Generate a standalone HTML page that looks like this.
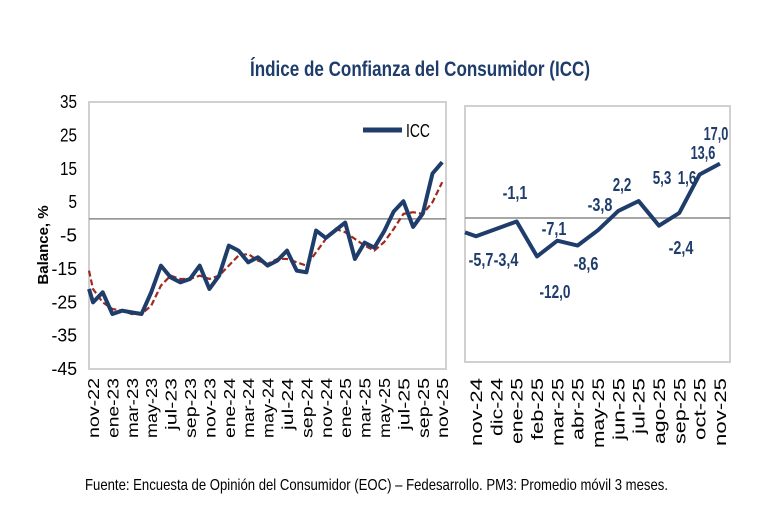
<!DOCTYPE html>
<html><head><meta charset="utf-8"><style>
body{margin:0;background:#fff;}
svg{display:block;}
.n{font-family:"Liberation Sans",sans-serif;}
.s{font-family:"Liberation Sans",sans-serif;}
</style></head><body>
<svg id="c" width="768" height="512" viewBox="0 0 768 512" xmlns="http://www.w3.org/2000/svg">
<text x="250" y="76" textLength="340" lengthAdjust="spacingAndGlyphs" class="n" font-size="21" font-weight="bold" fill="#1f3d6b">Índice de Confianza del Consumidor (ICC)</text>
<rect x="89" y="102" width="357" height="267" fill="#fff" stroke="#d0d0d0" stroke-width="2"/>
<rect x="465" y="106" width="265" height="256" fill="#fff" stroke="#d0d0d0" stroke-width="2"/>
<line x1="89" y1="218.9" x2="446" y2="218.9" stroke="#8a8a8a" stroke-width="1.5"/>
<line x1="465" y1="218" x2="730" y2="218" stroke="#8a8a8a" stroke-width="1.5"/>
<text transform="translate(48,245) rotate(-90)" text-anchor="middle" class="s" font-size="15" font-weight="bold" fill="#000">Balance, %</text>
<line x1="363" y1="130" x2="402" y2="130" stroke="#1f3d6b" stroke-width="5"/>
<text x="406" y="137" textLength="24" lengthAdjust="spacingAndGlyphs" class="n" font-size="18" fill="#000">ICC</text>
<text x="85" y="490" textLength="583" lengthAdjust="spacingAndGlyphs" class="n" font-size="16" fill="#000">Fuente: Encuesta de Opinión del Consumidor (EOC) – Fedesarrollo. PM3: Promedio móvil 3 meses.</text>
<g id="g"></g>
</svg>
<script>
var g=document.getElementById('g'),h='';
function Y(v){return 218.9-v*3.3375;}
for(var v=35;v>=-45;v-=10){var s=''+v;h+='<text x="'+(77-s.length*8.5)+'" y="'+(Y(v)+6)+'" textLength="'+(s.length*8.5)+'" lengthAdjust="spacingAndGlyphs" class="n" font-size="18" fill="#000">'+s+'</text>';}
var icc=[-25,-22,-28.5,-27.5,-28,-28.5,-22,-14,-17.5,-19,-18,-14,-21,-17,-8,-9.5,-13,-11.5,-14,-12.5,-9.5,-15.5,-16,-3.5,-5.7,-3.4,-1.1,-12,-7.1,-8.6,-3.8,2.2,5.3,-2.4,1.6,13.6,17];
var ma=[-21,-25,-27,-27.5,-28.5,-28.5,-26,-20,-17,-18,-18,-17,-18,-17,-14,-11,-10.5,-12.5,-13.5,-12,-12,-13,-14,-10,-6,-3,-4,-6,-8,-9.5,-7,-3,1.5,2,1.5,5,11];
function X(i){return 93+9.7*i;}
var p='89,'+Y(-21),q='89,'+Y(-15.5);
for(var i=0;i<37;i++){p+=' '+X(i)+','+Y(icc[i]);q+=' '+X(i)+','+Y(ma[i]);}
h+='<polyline points="'+q+'" fill="none" stroke="#a0281e" stroke-width="2.2" stroke-dasharray="6,3"/>';
h+='<polyline points="'+p+'" fill="none" stroke="#1f3d6b" stroke-width="4" stroke-linejoin="round"/>';
var ml=['nov','dic','ene','feb','mar','abr','may','jun','jul','ago','sep','oct'];
for(var i=0;i<37;i+=2){var nm=ml[i%12],yr=22+Math.floor((i+10)/12);
h+='<text transform="translate('+(X(i)+6)+',378) rotate(-90)" text-anchor="end" textLength="'+(nm=='jul'?52:60)+'" lengthAdjust="spacingAndGlyphs" class="s" font-size="16" fill="#000">'+nm+'-'+yr+'</text>';}
function Y2(v){return 218-v*3.2;}
var rv=[-5.7,-3.4,-1.1,-12,-7.1,-8.6,-3.8,2.2,5.3,-2.4,1.6,13.6,17];
function X2(i){return 476+20.33*i;}
var r='465,'+Y2(-4.5);
for(var i=0;i<13;i++)r+=' '+X2(i)+','+Y2(rv[i]);
h+='<polyline points="'+r+'" fill="none" stroke="#1f3d6b" stroke-width="4" stroke-linejoin="round"/>';
var rl=['nov-24','dic-24','ene-25','feb-25','mar-25','abr-25','may-25','jun-25','jul-25','ago-25','sep-25','oct-25','nov-25'];
var rlen=[68,58,66,62,68,62,70,62,56,66,66,62,68];
for(var i=0;i<13;i++)h+='<text transform="translate('+(X2(i)+6)+',378) rotate(-90)" text-anchor="end" textLength="'+rlen[i]+'" lengthAdjust="spacingAndGlyphs" class="s" font-size="17" fill="#000">'+rl[i]+'</text>';
var lab=[['-5,7',481,266],['-3,4',506,266],['-1,1',515,199],['-12,0',555,298],['-7,1',554,235],['-8,6',586,270],['-3,8',600,211],['2,2',622,191],['5,3',662,184],['-2,4',681,254],['1,6',687,184],['13,6',703,159],['17,0',716,140]];
lab.forEach(function(l){var w=l[0].length*6.2;h+='<text x="'+(l[1]-w/2)+'" y="'+l[2]+'" textLength="'+w+'" lengthAdjust="spacingAndGlyphs" class="n" font-size="18" font-weight="bold" fill="#1f3d6b">'+l[0]+'</text>';});
g.innerHTML=h;
</script>
</body></html>
